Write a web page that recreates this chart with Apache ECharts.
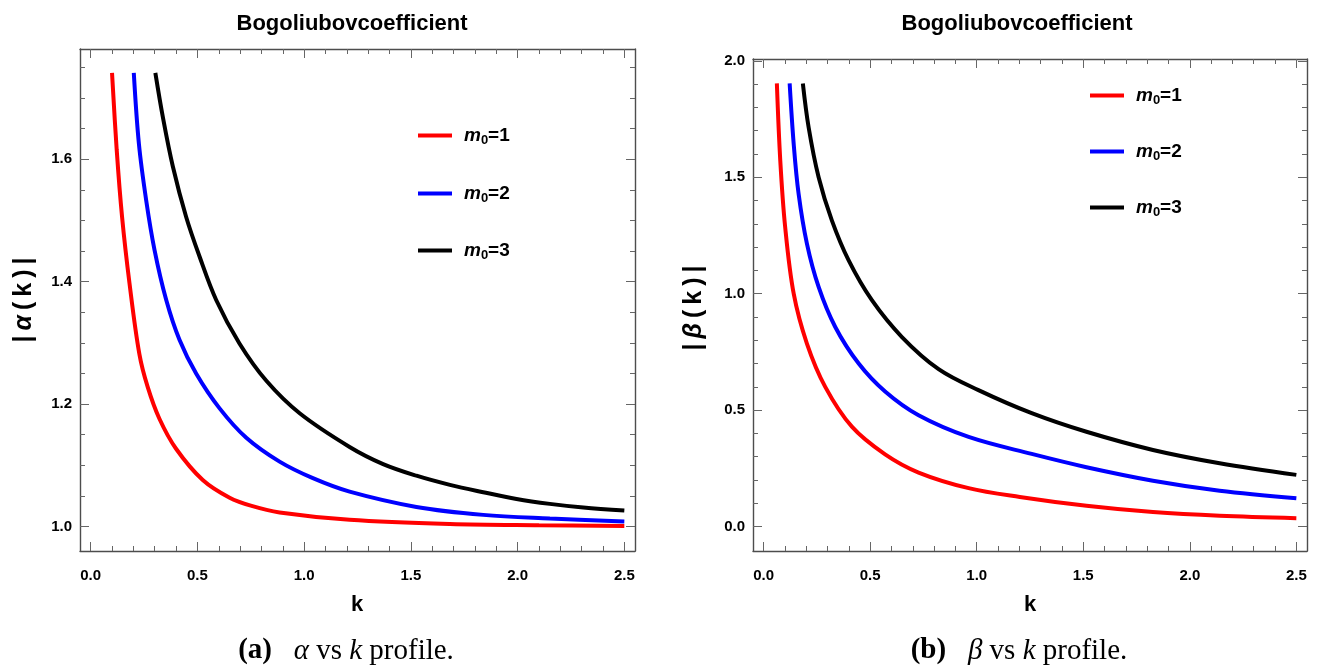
<!DOCTYPE html>
<html><head><meta charset="utf-8">
<script src="https://cdn.jsdelivr.net/npm/echarts@6/dist/echarts.min.js"></script>
<style>html,body{margin:0;padding:0;background:#fff}#c{width:1320px;height:670px}</style>
</head><body><div id="c"></div>
<script>
// ---------- data ----------
const seriesNames = ['m0=1', 'm0=2', 'm0=3'];
const seriesColors = ['#ff0000', '#0000ff', '#000000'];

// |alpha(k)|  : [k, value]
const alphaM1 = [[0.100,1.741],[0.122,1.615],[0.147,1.506],[0.182,1.397],[0.228,1.282],[0.267,1.228],[0.322,1.176],[0.400,1.127],[0.525,1.076],[0.651,1.047],[0.750,1.034],[0.885,1.023],[1.213,1.011],[1.683,1.004],[2.100,1.002],[2.500,1.001]];
const alphaM2 = [[0.202,1.741],[0.226,1.625],[0.260,1.533],[0.299,1.452],[0.354,1.370],[0.416,1.305],[0.494,1.250],[0.604,1.193],[0.729,1.145],[0.885,1.106],[1.041,1.079],[1.213,1.057],[1.526,1.032],[1.839,1.019],[2.151,1.013],[2.500,1.008]];
const alphaM3 = [[0.303,1.741],[0.338,1.669],[0.385,1.588],[0.447,1.506],[0.510,1.441],[0.588,1.370],[0.697,1.299],[0.823,1.238],[0.979,1.185],[1.213,1.130],[1.370,1.102],[1.526,1.083],[1.683,1.068],[1.839,1.056],[1.995,1.045],[2.151,1.037],[2.308,1.031],[2.500,1.026]];

// |beta(k)|  : [k, value]
const betaM1 = [[0.062,1.903],[0.078,1.572],[0.101,1.286],[0.141,1.000],[0.203,0.786],[0.289,0.600],[0.414,0.429],[0.570,0.310],[0.727,0.232],[0.962,0.165],[1.202,0.127],[1.515,0.089],[1.827,0.062],[2.140,0.046],[2.500,0.036]];
const betaM2 = [[0.122,1.903],[0.141,1.643],[0.164,1.429],[0.203,1.215],[0.258,1.029],[0.336,0.857],[0.446,0.700],[0.570,0.580],[0.727,0.478],[0.962,0.385],[1.258,0.312],[1.515,0.255],[1.827,0.197],[2.140,0.154],[2.500,0.122]];
const betaM3 = [[0.184,1.903],[0.211,1.715],[0.258,1.500],[0.320,1.315],[0.399,1.143],[0.508,0.972],[0.649,0.814],[0.821,0.676],[1.008,0.586],[1.258,0.487],[1.515,0.407],[1.827,0.329],[2.140,0.272],[2.500,0.222]];

// tick values
const kMajor = [0, 0.5, 1, 1.5, 2, 2.5];
const kMinor = [0,0.1,0.2,0.3,0.4,0.5,0.6,0.7,0.8,0.9,1,1.1,1.2,1.3,1.4,1.5,1.6,1.7,1.8,1.9,2,2.1,2.2,2.3,2.4,2.5];
const alphaMajor = [1.0, 1.2, 1.4, 1.6];
const alphaMinor = [1.0,1.05,1.1,1.15,1.2,1.25,1.3,1.35,1.4,1.45,1.5,1.55,1.6,1.65,1.7,1.75];
const betaMajor = [0, 0.5, 1, 1.5, 2];
const betaMinor = [0,0.1,0.2,0.3,0.4,0.5,0.6,0.7,0.8,0.9,1,1.1,1.2,1.3,1.4,1.5,1.6,1.7,1.8,1.9,2];

const titleText = 'Bogoliubovcoefficient';

// ---------- styling ----------
const FONT = 'Liberation Sans, Arial, sans-serif';
const SERIF = 'Liberation Serif, Times New Roman, serif';
const frameColor = '#4d4d4d';
const tickColor = '#666666';
const fmt = v => v.toFixed(1);
const labelStyle = {color: '#000', fontFamily: FONT, fontWeight: 'bold', fontSize: 15};

function axisSet(dir, gridIndex, min, max, major, minor) {
  const positions = dir === 'x' ? ['bottom', 'top'] : ['left', 'right'];
  const out = [];
  positions.forEach((pos, pi) => {
    const base = {type: 'value', gridIndex, min, max, position: pos, splitLine: {show: false}, z: 5};
    out.push(Object.assign({}, base, {
      axisLine: {show: true, onZero: false, lineStyle: {color: frameColor, width: 1.4}},
      axisTick: {show: true, inside: true, length: 9, customValues: major, lineStyle: {color: tickColor, width: 1}},
      axisLabel: pi === 0 ? Object.assign({show: true, customValues: major, formatter: fmt, margin: dir === 'x' ? 17 : 8}, labelStyle) : {show: false}
    }));
    out.push(Object.assign({}, base, {
      axisLine: {show: false, onZero: false},
      axisTick: {show: true, inside: true, length: 5, customValues: minor, lineStyle: {color: tickColor, width: 1}},
      axisLabel: {show: false}
    }));
  });
  return out;
}

const grids = [
  {left: 80, top: 49, width: 555, height: 502},
  {left: 753, top: 59, width: 554, height: 492}
];
const xAxes = [].concat(axisSet('x', 0, -0.05, 2.55, kMajor, kMinor), axisSet('x', 1, -0.05, 2.55, kMajor, kMinor));
const yAxes = [].concat(axisSet('y', 0, 0.96, 1.78, alphaMajor, alphaMinor), axisSet('y', 1, -0.105, 2.008, betaMajor, betaMinor));

const alphaData = [alphaM1, alphaM2, alphaM3];
const betaData = [betaM1, betaM2, betaM3];
const series = [];
alphaData.forEach((d, i) => series.push({
  name: seriesNames[i], type: 'line', xAxisIndex: 0, yAxisIndex: 0, data: d,
  showSymbol: false, smooth: 0.35, lineStyle: {color: seriesColors[i], width: 4}, itemStyle: {color: seriesColors[i]}, z: 3
}));
betaData.forEach((d, i) => series.push({
  name: seriesNames[i], type: 'line', xAxisIndex: 4, yAxisIndex: 4, data: d,
  showSymbol: false, smooth: 0.35, lineStyle: {color: seriesColors[i], width: 4}, itemStyle: {color: seriesColors[i]}, z: 3
}));

const legendRich = {
  m: {fontFamily: FONT, fontWeight: 'bold', fontStyle: 'italic', fontSize: 19, color: '#000', padding: [0, 0, 0, 7]},
  s: {fontFamily: FONT, fontWeight: 'bold', fontSize: 13, color: '#000', padding: [10, 0, 0, 0]},
  t: {fontFamily: FONT, fontWeight: 'bold', fontSize: 19, color: '#000'}
};
function legendAt(name, left, cy) {
  return {
    data: [name], left, top: cy - 12, padding: 0, icon: 'rect', itemWidth: 34, itemHeight: 4,
    selectedMode: false,
    formatter: n => '{m|m}{s|0}{t|=' + n.split('=')[1] + '}',
    textStyle: {rich: legendRich}
  };
}
const legends = [];
[138, 196, 253].forEach((cy, i) => legends.push(legendAt(seriesNames[i], 418, cy)));
[98, 154, 210].forEach((cy, i) => legends.push(legendAt(seriesNames[i], 1090, cy)));

function txt(x, y, text, opts) {
  return Object.assign({type: 'text', x, y, style: Object.assign({text, align: 'center', verticalAlign: 'middle', fill: '#000'}, opts.style || {})}, opts.el || {});
}
const yTitleRich = {
  b: {fontFamily: FONT, fontWeight: 'bold', fontSize: 25, color: '#000'},
  g: {fontFamily: FONT, fontWeight: 'bold', fontStyle: 'italic', fontSize: 25, color: '#000'}
};
const capRich = {
  b: {fontFamily: SERIF, fontWeight: 'bold', fontSize: 29, color: '#000'},
  r: {fontFamily: SERIF, fontSize: 29, color: '#000'},
  i: {fontFamily: SERIF, fontStyle: 'italic', fontSize: 29, color: '#000'}
};
const graphic = [
  txt(352, 24, titleText, {style: {font: 'bold 22px ' + FONT}}),
  txt(1017, 24, titleText, {style: {font: 'bold 22px ' + FONT}}),
  txt(357, 605, 'k', {style: {font: 'bold 22px ' + FONT}}),
  txt(1030, 605, 'k', {style: {font: 'bold 22px ' + FONT}}),
  txt(24, 300, '{b||\u2009}{g|α}{b|\u2009(\u2009k\u2009)\u2009|}', {style: {rich: yTitleRich}, el: {rotation: Math.PI / 2}}),
  txt(694, 308, '{b||\u2009}{g|β}{b|\u2009(\u2009k\u2009)\u2009|}', {style: {rich: yTitleRich}, el: {rotation: Math.PI / 2}}),
  txt(346, 651, '{b|(a)}{r|   }{i|α}{r| vs }{i|k}{r| profile.}', {style: {rich: capRich}}),
  txt(1019, 651, '{b|(b)}{r|   }{i|β}{r| vs }{i|k}{r| profile.}', {style: {rich: capRich}})
];

const chart = echarts.init(document.getElementById('c'), null, {renderer: 'canvas'});
chart.setOption({
  backgroundColor: '#fff',
  animation: false,
  grid: grids,
  xAxis: xAxes,
  yAxis: yAxes,
  legend: legends,
  series,
  graphic
});
</script></body></html>
